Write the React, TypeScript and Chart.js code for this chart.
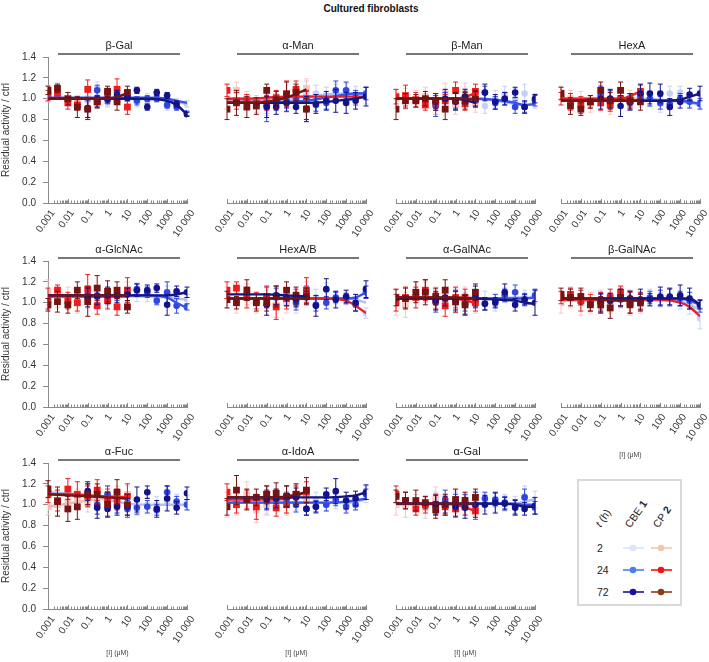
import React, { useEffect, useRef } from 'react';
import { Chart, registerables } from 'chart.js';
Chart.register(...registerables);

const FONT = '"Liberation Sans", Arial, sans-serif';
Chart.defaults.font.family = FONT;

const PANELS = ['β-Gal', 'α-Man', 'β-Man', 'HexA', 'α-GlcNAc', 'HexA/B', 'α-GalNAc', 'β-GalNAc', 'α-Fuc', 'α-IdoA', 'α-Gal'];
const UNIT_PANELS = [7, 8, 9, 10];
const CP_X = [0.001, 0.003, 0.01, 0.03, 0.1, 0.3, 1, 3, 10];
const CBE_X = [0.1, 0.3, 1, 3, 10, 30, 100, 300, 1000, 3000, 10000];
const FIT_X = [0.001, 0.01, 0.1, 1, 10, 100, 1000, 3000, 10000];
const Y_TICKS = [0, 0.2, 0.4, 0.6, 0.8, 1.0, 1.2, 1.4];

// ---- point values (residual activity / ctrl) ----
const CBE2_Y = [
  [0.98, 1.10, 0.98, 1.00, 1.00, 0.97, 1.00, 1.02, 0.93, 0.96, 0.95],
  [0.95, 0.97, 1.00, 1.02, 1.05, 1.05, 1.03, 1.05, 1.05, 1.04, 1.03],
  [0.95, 1.00, 0.98, 1.02, 1.00, 0.93, 1.00, 1.04, 1.00, 1.05, 0.98],
  [1.02, 1.00, 1.00, 0.98, 1.02, 1.00, 0.95, 1.05, 1.06, 0.98, 0.96],
  [1.05, 1.06, 1.05, 1.05, 1.08, 1.10, 1.08, 1.05, 1.10, 1.05, 1.03],
  [1.05, 1.05, 1.05, 1.03, 1.08, 1.05, 1.12, 1.05, 1.04, 1.02, 0.90],
  [1.03, 1.05, 1.05, 1.02, 1.05, 1.02, 1.00, 1.07, 1.02, 1.05, 1.05],
  [1.02, 1.00, 1.05, 1.05, 1.03, 1.05, 1.03, 1.05, 1.02, 0.98, 0.85],
  [1.08, 1.05, 1.10, 1.00, 1.00, 0.98, 1.00, 1.00, 1.03, 1.03, 1.02],
  [1.00, 1.02, 1.00, 1.02, 1.05, 1.05, 1.00, 1.03, 1.00, 1.02, 1.10],
  [1.02, 1.00, 1.02, 1.00, 1.05, 1.02, 1.00, 1.02, 1.00, 1.08, 1.05],
];
const CBE24_Y = [
  [0.90, 1.08, 0.99, 1.00, 1.01, 0.98, 1.00, 1.00, 0.94, 0.92, 0.86],
  [0.93, 0.95, 0.98, 1.00, 1.00, 0.94, 0.96, 1.08, 1.08, 1.01, 1.05],
  [0.93, 0.98, 0.98, 1.00, 0.98, 1.06, 0.96, 1.00, 0.92, 0.92, 0.98],
  [1.03, 1.00, 1.00, 0.96, 1.02, 1.00, 0.96, 0.95, 1.00, 0.97, 0.95],
  [1.08, 1.07, 1.06, 1.08, 1.08, 1.13, 1.10, 1.02, 1.10, 0.97, 0.96],
  [1.05, 1.05, 1.05, 1.00, 1.10, 0.98, 1.00, 1.05, 1.04, 0.98, 1.10],
  [1.00, 1.03, 1.05, 1.00, 1.02, 0.99, 1.02, 1.07, 1.10, 1.03, 1.07],
  [1.00, 1.02, 1.03, 1.04, 1.03, 1.05, 1.05, 1.05, 1.04, 1.02, 0.97],
  [1.10, 1.00, 1.10, 1.00, 0.96, 0.97, 0.98, 0.95, 1.12, 1.03, 1.00],
  [1.03, 1.05, 1.05, 1.00, 0.96, 0.98, 1.00, 1.05, 0.98, 1.00, 1.10],
  [1.00, 1.05, 1.02, 1.03, 1.00, 1.06, 1.05, 1.02, 0.98, 1.07, 0.97],
];
const CBE72_Y = [
  [0.91, 0.97, 1.00, 1.04, 1.02, 1.08, 0.92, 1.06, 1.03, 0.95, 0.85],
  [0.92, 0.92, 0.96, 0.92, 0.90, 0.95, 0.98, 0.98, 0.96, 0.98, 1.02],
  [0.97, 1.00, 0.97, 1.02, 1.00, 1.06, 0.97, 1.00, 1.06, 0.92, 1.00],
  [1.00, 1.00, 0.93, 0.97, 1.05, 1.05, 1.05, 0.92, 0.97, 1.04, 1.05],
  [1.05, 1.06, 1.07, 1.07, 1.08, 1.12, 1.12, 1.14, 0.98, 1.11, 1.10],
  [0.98, 1.07, 1.05, 1.03, 1.05, 0.97, 1.13, 1.03, 1.06, 1.00, 1.13],
  [1.02, 1.05, 1.02, 0.98, 1.06, 0.99, 1.00, 1.10, 0.98, 1.03, 1.00],
  [1.00, 1.02, 1.05, 1.04, 1.03, 1.03, 1.06, 1.06, 1.07, 1.04, 0.98],
  [1.13, 0.97, 0.96, 0.98, 0.98, 1.05, 1.12, 0.96, 1.06, 0.97, 1.11],
  [1.05, 1.06, 1.08, 1.07, 0.96, 0.98, 1.10, 1.13, 1.04, 1.06, 1.12],
  [1.00, 1.00, 0.98, 0.97, 1.00, 1.00, 1.02, 1.01, 0.97, 0.96, 0.99],
];
const CP2_Y = [
  [1.05, 1.08, 1.00, 0.97, 1.00, 1.00, 0.98, 1.00, 1.00],
  [1.00, 1.08, 1.00, 0.95, 0.92, 0.98, 0.97, 1.02, 1.10],
  [1.00, 1.00, 1.00, 1.02, 0.95, 1.05, 0.95, 1.05, 0.96],
  [1.06, 1.00, 0.98, 0.95, 1.05, 0.94, 1.00, 1.00, 1.00],
  [1.10, 1.05, 1.05, 1.00, 1.05, 1.05, 1.05, 1.05, 1.10],
  [1.05, 1.00, 1.08, 1.00, 1.00, 0.98, 1.00, 1.00, 1.10],
  [1.00, 0.98, 1.10, 1.10, 1.05, 1.05, 1.00, 1.05, 1.00],
  [1.00, 1.05, 1.00, 1.00, 1.00, 1.00, 1.05, 1.00, 1.00],
  [0.98, 1.00, 1.03, 1.05, 1.02, 1.00, 1.10, 1.10, 1.10],
  [1.00, 1.00, 1.10, 0.95, 1.00, 1.05, 1.00, 1.10, 1.05],
  [1.00, 1.00, 1.00, 0.97, 1.05, 1.00, 1.04, 1.00, 1.00],
];
const CP24_Y = [
  [1.03, 1.05, 0.96, 0.94, 1.09, 0.97, 1.05, 1.09, 0.92],
  [1.08, 0.98, 0.98, 0.96, 0.96, 1.01, 1.05, 1.09, 1.00],
  [1.02, 1.03, 0.99, 0.94, 0.96, 0.98, 1.08, 0.95, 1.07],
  [1.00, 0.97, 0.94, 0.97, 0.96, 0.94, 1.00, 0.99, 1.07],
  [1.04, 1.12, 1.02, 1.00, 1.13, 0.97, 1.02, 0.96, 1.12],
  [1.12, 1.14, 1.05, 1.02, 1.06, 0.96, 1.04, 1.05, 1.12],
  [1.00, 1.05, 1.05, 1.12, 1.02, 0.97, 1.05, 1.05, 1.00],
  [1.05, 1.08, 1.02, 1.00, 1.02, 1.05, 1.10, 1.00, 1.02],
  [1.10, 1.04, 1.15, 1.10, 1.08, 1.14, 1.05, 1.05, 1.08],
  [1.12, 1.00, 1.05, 0.98, 1.10, 0.97, 1.00, 1.10, 1.12],
  [1.10, 1.04, 0.96, 1.00, 1.00, 0.98, 0.96, 0.98, 0.94],
];
const CP72_Y = [
  [1.08, 1.10, 1.00, 0.92, 0.90, 0.97, 1.07, 0.97, 1.06],
  [0.90, 0.96, 0.92, 0.93, 1.08, 0.99, 1.04, 1.06, 0.90],
  [0.90, 0.98, 0.98, 1.00, 0.98, 0.90, 0.98, 0.98, 1.00],
  [1.05, 0.93, 0.90, 0.97, 1.08, 0.98, 1.08, 0.98, 0.97],
  [0.98, 1.01, 0.98, 1.12, 1.01, 1.14, 1.11, 1.12, 0.96],
  [1.03, 1.00, 1.12, 1.00, 1.00, 1.06, 1.12, 1.07, 1.06],
  [1.05, 1.04, 1.10, 1.10, 1.06, 1.12, 1.01, 0.98, 1.10],
  [1.08, 1.05, 1.06, 0.98, 0.98, 0.95, 1.05, 0.98, 1.00],
  [1.15, 1.03, 0.96, 0.98, 1.10, 1.10, 1.00, 1.12, 1.00],
  [0.98, 1.14, 1.05, 1.07, 1.10, 1.11, 1.08, 1.10, 1.14],
  [1.08, 1.04, 1.04, 1.02, 0.95, 1.00, 1.05, 1.04, 1.07],
];

// ---- error bars (in hundredths) ----
const CBE2_E = [
  [8, 6, 5, 5, 5, 5, 5, 4, 4, 4, 3],
  [9, 8, 7, 6, 12, 8, 8, 9, 10, 8, 8],
  [10, 9, 8, 8, 7, 7, 8, 8, 10, 9, 7],
  [8, 7, 7, 6, 8, 7, 8, 7, 6, 6, 5],
  [10, 9, 8, 8, 8, 9, 7, 6, 6, 6, 5],
  [9, 8, 7, 8, 7, 8, 7, 6, 6, 6, 5],
  [10, 8, 9, 8, 8, 9, 8, 7, 7, 7, 6],
  [10, 8, 8, 7, 7, 8, 7, 8, 8, 9, 10],
  [10, 9, 8, 7, 7, 8, 7, 8, 8, 7, 7],
  [9, 8, 8, 7, 7, 7, 6, 7, 6, 7, 8],
  [10, 9, 10, 9, 8, 8, 7, 8, 8, 10, 8],
];
const CBE24_E = [
  [8, 5, 4, 4, 3, 4, 3, 3, 3, 3, 2],
  [15, 6, 7, 6, 7, 6, 6, 9, 8, 7, 6],
  [10, 8, 7, 7, 6, 6, 6, 6, 6, 5, 5],
  [9, 8, 7, 6, 6, 7, 6, 5, 5, 6, 5],
  [8, 7, 7, 6, 6, 5, 5, 4, 10, 7, 3],
  [10, 9, 8, 7, 6, 6, 6, 5, 5, 6, 6],
  [9, 8, 7, 8, 7, 6, 6, 6, 7, 6, 6],
  [8, 7, 7, 7, 6, 6, 7, 8, 7, 8, 6],
  [10, 9, 8, 8, 8, 6, 6, 5, 6, 5, 5],
  [8, 8, 7, 7, 6, 6, 6, 6, 6, 5, 5],
  [10, 9, 8, 7, 7, 6, 6, 6, 7, 8, 6],
];
const CBE72_E = [
  [9, 5, 4, 4, 4, 3, 3, 3, 3, 3, 2],
  [10, 7, 8, 6, 12, 9, 9, 11, 10, 8, 9],
  [8, 9, 8, 7, 7, 8, 7, 6, 5, 6, 4],
  [10, 9, 10, 8, 9, 10, 9, 8, 6, 6, 7],
  [9, 8, 8, 7, 6, 6, 5, 4, 10, 5, 5],
  [10, 9, 8, 7, 6, 10, 10, 8, 6, 8, 8],
  [9, 8, 9, 9, 10, 6, 5, 8, 6, 5, 12],
  [9, 7, 8, 7, 10, 6, 9, 8, 10, 10, 4],
  [9, 10, 7, 8, 8, 12, 6, 8, 12, 6, 6],
  [9, 9, 10, 9, 6, 5, 6, 12, 8, 7, 7],
  [9, 8, 9, 10, 12, 9, 10, 6, 7, 6, 8],
];
const CP2_E = [
  [8, 7, 6, 6, 6, 6, 6, 6, 7],
  [10, 8, 7, 8, 8, 9, 10, 10, 9],
  [9, 10, 8, 9, 10, 10, 10, 10, 9],
  [6, 8, 9, 8, 8, 9, 8, 8, 8],
  [12, 10, 10, 10, 10, 10, 10, 9, 10],
  [10, 10, 10, 10, 12, 12, 10, 10, 10],
  [12, 12, 10, 10, 10, 10, 10, 10, 10],
  [10, 10, 12, 10, 10, 10, 10, 12, 10],
  [8, 10, 10, 10, 9, 9, 8, 8, 8],
  [12, 10, 12, 12, 10, 10, 10, 10, 10],
  [10, 12, 10, 10, 12, 10, 10, 10, 10],
];
const CP24_E = [
  [5, 5, 6, 5, 9, 5, 5, 10, 7],
  [6, 8, 6, 5, 7, 7, 12, 8, 8],
  [7, 10, 7, 5, 7, 6, 8, 6, 7],
  [6, 8, 8, 6, 7, 6, 7, 6, 6],
  [10, 5, 8, 8, 14, 8, 8, 8, 12],
  [8, 6, 10, 8, 10, 12, 10, 8, 12],
  [8, 10, 10, 10, 8, 10, 10, 8, 8],
  [6, 6, 10, 8, 8, 8, 6, 10, 8],
  [8, 10, 10, 12, 10, 10, 10, 10, 12],
  [8, 8, 9, 12, 8, 8, 8, 8, 10],
  [8, 8, 6, 8, 10, 8, 8, 8, 8],
];
const CP72_E = [
  [4, 4, 6, 10, 10, 6, 5, 8, 6],
  [10, 12, 10, 8, 6, 8, 12, 8, 10],
  [10, 7, 6, 7, 7, 10, 8, 8, 8],
  [6, 8, 6, 6, 8, 8, 8, 7, 8],
  [6, 10, 8, 8, 14, 12, 10, 8, 6],
  [8, 6, 10, 8, 8, 10, 8, 8, 8],
  [8, 10, 10, 12, 8, 10, 10, 10, 8],
  [6, 8, 8, 6, 8, 10, 8, 8, 8],
  [8, 14, 12, 12, 10, 10, 12, 12, 10],
  [8, 14, 10, 8, 8, 10, 10, 10, 12],
  [6, 8, 10, 6, 8, 10, 10, 8, 8],
];

// ---- fitted curves, read at FIT_X (shorter rows stop earlier) ----
const CBE2_FIT = [
  [1.00, 1.00, 1.00, 1.00, 1.00, 1.00, 0.99, 0.97, 0.95],
  [1.00, 1.00, 1.00, 1.00, 1.02, 1.04, 1.05, 1.05, 1.05],
  [1.00, 1.00, 1.00, 1.00, 1.00, 0.98, 0.95, 0.94, 0.95],
  [1.00, 1.00, 1.00, 1.00, 1.00, 0.99, 0.97, 0.96, 0.94],
  [1.06, 1.06, 1.06, 1.06, 1.06, 1.06, 1.05, 1.04, 1.03],
  [1.04, 1.04, 1.04, 1.04, 1.04, 1.04, 1.04, 1.03, 1.00],
  [1.04, 1.04, 1.04, 1.04, 1.04, 1.04, 1.05, 1.05, 1.05],
  [1.02, 1.02, 1.02, 1.02, 1.02, 1.02, 1.01, 0.98, 0.93],
  [1.12, 1.11, 1.09, 1.05, 1.01, 1.00, 1.00, 1.00, 1.00],
  [1.02, 1.02, 1.02, 1.02, 1.02, 1.02, 1.02, 1.03, 1.05],
  [1.01, 1.01, 1.01, 1.01, 1.01, 1.01, 1.01, 1.03, 1.05],
];
const CBE24_FIT = [
  [1.01, 1.01, 1.01, 1.01, 1.01, 1.01, 1.00, 0.98, 0.96],
  [0.97, 0.97, 0.97, 0.97, 0.98, 1.01, 1.04, 1.05, 1.05],
  [1.00, 1.00, 1.00, 1.00, 1.00, 0.99, 0.96, 0.94, 0.95],
  [0.98, 0.98, 0.98, 0.98, 0.98, 0.98, 0.98, 0.97, 0.95],
  [1.07, 1.07, 1.07, 1.07, 1.07, 1.07, 1.05, 1.00, 0.95],
  [1.04, 1.04, 1.04, 1.04, 1.04, 1.04, 1.04, 1.05, 1.10],
  [1.04, 1.04, 1.04, 1.04, 1.04, 1.04, 1.04, 1.04, 1.05],
  [1.04, 1.04, 1.04, 1.04, 1.04, 1.04, 1.04, 1.02, 0.98],
  [],
  [1.02, 1.02, 1.02, 1.02, 1.02, 1.02, 1.03, 1.04, 1.06],
  [1.01, 1.01, 1.01, 1.01, 1.01, 1.01, 1.01, 1.00, 1.00],
];
const CBE72_FIT = [
  [1.00, 1.00, 1.00, 1.00, 1.00, 1.00, 0.98, 0.94, 0.85],
  [0.96, 0.96, 0.96, 0.96, 0.96, 0.97, 0.99, 1.00, 1.02],
  [1.00, 1.00, 1.00, 1.00, 0.96],
  [0.98, 0.98, 0.98, 0.98, 0.98, 0.98, 0.99, 1.02, 1.05],
  [1.07, 1.07, 1.07, 1.07, 1.07, 1.07, 1.07, 1.08, 1.10],
  [1.08, 1.08, 1.08, 1.07, 1.06],
  [1.04, 1.04, 1.04, 1.04, 1.04, 1.03, 1.02, 1.00, 0.99],
  [1.04, 1.04, 1.04, 1.04, 1.04, 1.04, 1.04, 1.04, 0.98],
  [],
  [1.07, 1.07, 1.07, 1.07, 1.07, 1.07, 1.08, 1.09, 1.12],
  [1.01, 1.01, 1.01, 1.01, 1.01, 1.01, 1.00, 0.98, 0.98],
];
const CP2_FIT = [
  [1.00, 1.00, 1.00, 1.00, 1.00],
  [0.98, 0.98, 0.99, 1.00, 1.02],
  [1.00, 1.00, 1.00, 1.00, 1.00],
  [1.00, 1.00, 1.00, 1.00, 1.00],
  [1.06, 1.06, 1.06, 1.06, 1.06],
  [1.04, 1.04, 1.04, 1.04, 1.04],
  [1.05, 1.05, 1.05, 1.05, 1.05],
  [1.02, 1.02, 1.02, 1.02, 1.02],
  [0.98, 1.01, 1.04, 1.07, 1.08],
  [1.02, 1.02, 1.02, 1.02, 1.02],
  [1.00, 1.00, 1.00, 1.00, 1.00],
];
const CP24_FIT = [
  [1.00, 1.00, 1.00, 1.00, 1.00],
  [1.00, 1.00, 1.01, 1.02, 1.02, 1.02, 1.02, 1.02, 1.02],
  [1.00, 1.00, 1.00, 1.00, 1.05],
  [1.00, 1.00, 1.00, 1.00, 1.07],
  [1.06, 1.06, 1.06, 1.06, 1.06],
  [1.04, 1.04, 1.04, 1.04, 1.04, 1.04, 1.02, 0.97, 0.90],
  [1.05, 1.05, 1.05, 1.04, 1.00],
  [1.03, 1.03, 1.03, 1.03, 1.03, 1.03, 1.00, 0.96, 0.87],
  [1.10, 1.10, 1.09, 1.08, 1.07],
  [1.05, 1.05, 1.05, 1.06, 1.12],
  [1.01, 1.01, 1.01, 1.00, 0.94],
];
const CP72_FIT = [
  [1.00, 1.00, 1.00, 1.00, 1.05],
  [0.96, 0.96, 0.97, 1.01, 1.09],
  [1.00, 1.00, 1.00, 1.00, 0.99],
  [0.98, 0.98, 0.98, 0.98, 0.98],
  [1.07, 1.07, 1.07, 1.07, 1.07],
  [1.04, 1.04, 1.04, 1.04, 1.04],
  [1.05, 1.05, 1.05, 1.05, 1.04],
  [1.04, 1.04, 1.03, 1.02, 1.02],
  [1.10, 1.09, 1.08, 1.07, 1.06],
  [1.07, 1.07, 1.07, 1.08, 1.12],
  [1.01, 1.01, 1.01, 1.01, 1.01],
];

// ---- styles ----
const SERIES = [
  { pts: CBE2_Y, err: CBE2_E, fit: CBE2_FIT, xs: CBE_X, color: 'rgba(190,202,242,0.85)', fitColor: '#b4bfef', style: 'circle', r: 3.3, ptOrder: 12, fitOrder: 10 },
  { pts: CP2_Y, err: CP2_E, fit: CP2_FIT, xs: CP_X, color: 'rgba(246,190,186,0.85)', fitColor: '#f4b6b4', style: 'rect', r: 4.8, ptOrder: 11, fitOrder: 9 },
  { pts: CBE24_Y, err: CBE24_E, fit: CBE24_FIT, xs: CBE_X, color: '#2f47e2', fitColor: '#3852ea', style: 'circle', r: 3.3, ptOrder: 8, fitOrder: 6 },
  { pts: CP24_Y, err: CP24_E, fit: CP24_FIT, xs: CP_X, color: '#f01c1c', fitColor: '#e8202c', style: 'rect', r: 4.8, ptOrder: 7, fitOrder: 5 },
  { pts: CBE72_Y, err: CBE72_E, fit: CBE72_FIT, xs: CBE_X, color: '#12128c', fitColor: '#15157e', style: 'circle', r: 3.3, ptOrder: 4, fitOrder: 2 },
  { pts: CP72_Y, err: CP72_E, fit: CP72_FIT, xs: CP_X, color: '#761313', fitColor: '#6e1515', style: 'rect', r: 4.8, ptOrder: 3, fitOrder: 1 },
];

const AX = [48, 227, 396, 561];
const TY = [57, 261, 463];
const PLOT_W = 139;
const PLOT_H = 146;
const PAD_L = 48;
const PAD_T = 30;
const PAD_R = 12;
const PAD_B = 56;
const ROT = (-55 * Math.PI) / 180;

const isDecade = (v: number) => Math.abs(Math.log10(v) - Math.round(Math.log10(v))) < 1e-6;
const fmtTick = (v: number) => {
  if (!isDecade(v)) return '';
  const e = Math.round(Math.log10(v));
  if (e < 0) return v.toFixed(-e);
  if (e === 4) return '10 000';
  return String(Math.round(v));
};

const errorBarPlugin = {
  id: 'errbars',
  beforeDatasetDraw(chart: any, args: any) {
    const ds = chart.data.datasets[args.index];
    if (!ds.errors) return;
    const { ctx, scales } = chart;
    const x = scales.x, y = scales.y;
    ctx.save();
    ctx.strokeStyle = ds.borderColor;
    ctx.lineWidth = 1;
    ds.data.forEach((p: any, i: number) => {
      const e = ds.errors[i] / 100;
      const px = x.getPixelForValue(p.x);
      const yt = y.getPixelForValue(p.y + e);
      const yb = y.getPixelForValue(p.y - e);
      ctx.beginPath();
      ctx.moveTo(px, yt); ctx.lineTo(px, yb);
      ctx.moveTo(px - 2.5, yt); ctx.lineTo(px + 2.5, yt);
      ctx.moveTo(px - 2.5, yb); ctx.lineTo(px + 2.5, yb);
      ctx.stroke();
    });
    ctx.restore();
  },
};

const decorPlugin = {
  id: 'decor',
  afterDraw(chart: any, _args: any, opts: any) {
    const { ctx, chartArea, scales } = chart;
    const { left, right, top, bottom } = chartArea;
    const x = scales.x;
    ctx.save();
    // title bar
    const l0 = left + 10, l1 = right - 7;
    ctx.strokeStyle = '#4a4a4a';
    ctx.lineWidth = 1.3;
    ctx.beginPath(); ctx.moveTo(l0, top - 3); ctx.lineTo(l1, top - 3); ctx.stroke();
    ctx.fillStyle = '#222';
    ctx.font = `11px ${FONT}`;
    ctx.textAlign = 'center';
    ctx.textBaseline = 'alphabetic';
    ctx.fillText(opts.name, (l0 + l1) / 2, top - 8);
    // inner tick marks and rotated decade labels on x axis
    ctx.strokeStyle = '#888';
    ctx.lineWidth = 1;
    ctx.font = `10px ${FONT}`;
    ctx.fillStyle = '#333';
    ctx.textBaseline = 'middle';
    ctx.textAlign = 'center';
    x.ticks.forEach((t: any) => {
      const px = Math.round(x.getPixelForValue(t.value)) + 0.5;
      const major = isDecade(t.value);
      ctx.beginPath(); ctx.moveTo(px, bottom); ctx.lineTo(px, bottom - (major ? 4 : 2.5)); ctx.stroke();
      if (major) {
        const label = fmtTick(t.value);
        const w = ctx.measureText(label).width;
        const cx = px - 0.15 * w + 1;
        const cy = bottom + 8 + 0.41 * w;
        ctx.save();
        ctx.translate(cx, cy);
        ctx.rotate(ROT);
        ctx.fillText(label, 0, 0);
        ctx.restore();
      }
    });
    if (opts.unit) {
      ctx.fillStyle = '#444';
      ctx.font = `7px ${FONT}`;
      ctx.textBaseline = 'middle';
      ctx.textAlign = 'center';
      ctx.fillText('[I] (μM)', (left + right) / 2, bottom + opts.unitOffset);
    }
    ctx.restore();
  },
};

function Panel({ idx }: { idx: number }) {
  const ref = useRef<HTMLCanvasElement | null>(null);
  const row = Math.floor(idx / 4);
  const col = idx % 4;
  const W = PAD_L + PLOT_W + PAD_R;
  const H = PAD_T + PLOT_H + PAD_B;
  useEffect(() => {
    const datasets: any[] = [];
    SERIES.forEach((s) => {
      const fitRow = s.fit[idx];
      if (fitRow.length) {
        datasets.push({
          type: 'line',
          data: fitRow.map((v: number, i: number) => ({ x: FIT_X[i], y: v })),
          borderColor: s.fitColor,
          borderWidth: 2.4,
          pointRadius: 0,
          cubicInterpolationMode: 'monotone',
          fill: false,
          order: s.fitOrder,
        });
      }
      datasets.push({
        type: 'line',
        data: s.pts[idx].map((v: number, i: number) => ({ x: s.xs[i], y: v })),
        errors: s.err[idx],
        showLine: false,
        borderColor: s.color,
        backgroundColor: s.color,
        pointStyle: s.style,
        pointRadius: s.r,
        pointBorderWidth: 0,
        order: s.ptOrder,
      });
    });
    const first = col === 0;
    const chart = new Chart(ref.current as HTMLCanvasElement, {
      type: 'line',
      data: { datasets },
      plugins: [errorBarPlugin, decorPlugin],
      options: {
        responsive: false,
        animation: false,
        events: [],
        layout: { padding: { top: PAD_T, right: PAD_R, left: 0, bottom: 0 } },
        plugins: {
          legend: { display: false },
          tooltip: { enabled: false },
          decor: { name: PANELS[idx], unit: UNIT_PANELS.includes(idx), unitOffset: row === 1 ? 48 : 44 },
        } as any,
        scales: {
          x: {
            type: 'logarithmic',
            min: 0.001,
            max: 10000,
            afterFit: (s: any) => { s.height = PAD_B; },
            border: { display: true, color: '#8a8a8a' },
            grid: { display: false },
            ticks: { display: false, autoSkip: false },
          },
          y: {
            min: 0,
            max: 1.4,
            afterFit: (s: any) => { s.width = PAD_L; },
            afterBuildTicks: (s: any) => { s.ticks = Y_TICKS.map((v) => ({ value: v })); },
            border: { display: first, color: '#8a8a8a' },
            grid: { display: first, drawOnChartArea: false, tickLength: 5, color: '#8a8a8a' },
            ticks: {
              display: first,
              padding: 7,
              color: '#333',
              font: { size: 10 },
              callback: (v: any) => Number(v).toFixed(1),
            },
            title: {
              display: first,
              text: 'Residual activity / ctrl',
              color: '#333',
              font: { size: 10 },
              padding: 0,
            },
          },
        },
      } as any,
    });
    return () => chart.destroy();
  }, [idx]);
  return (
    <canvas
      ref={ref}
      width={W}
      height={H}
      style={{ position: 'absolute', left: AX[col] - PAD_L, top: TY[row] - PAD_T, width: W, height: H }}
    />
  );
}

const LEGEND_TIMES = ['2', '24', '72'];
const LEGEND_CBE = ['#dbe5f6', '#4b7ff0', '#1c0f9a'];
const LEGEND_CP = ['#f4c6ab', '#f01414', '#8a3d12'];
const LEGEND_ROW_Y = [548, 570, 592];

function Legend() {
  return (
    <svg width={709} height={662} style={{ position: 'absolute', left: 0, top: 0, pointerEvents: 'none' }}>
      <rect x={578} y={480} width={103} height={125} fill="#fff" stroke="#d9d9d9" strokeWidth={2} />
      <g fontFamily={FONT} fontSize={10.5} fill="#222">
        <text transform="translate(606 520) rotate(-55)" textAnchor="middle">
          <tspan fontStyle="italic">t</tspan> (h)
        </text>
        <text transform="translate(639 516) rotate(-55)" textAnchor="middle">
          CBE <tspan fontWeight="bold">1</tspan>
        </text>
        <text transform="translate(665 519) rotate(-55)" textAnchor="middle">
          CP <tspan fontWeight="bold">2</tspan>
        </text>
        {LEGEND_TIMES.map((t, i) => (
          <text key={t} x={597} y={LEGEND_ROW_Y[i] + 4}>{t}</text>
        ))}
      </g>
      {LEGEND_TIMES.map((t, i) => (
        <g key={'m' + t}>
          <line x1={623} x2={644} y1={LEGEND_ROW_Y[i]} y2={LEGEND_ROW_Y[i]} stroke={LEGEND_CBE[i]} strokeWidth={1.6} />
          <circle cx={633} cy={LEGEND_ROW_Y[i]} r={3.3} fill={LEGEND_CBE[i]} />
          <line x1={651} x2={672} y1={LEGEND_ROW_Y[i]} y2={LEGEND_ROW_Y[i]} stroke={LEGEND_CP[i]} strokeWidth={1.6} />
          <circle cx={661} cy={LEGEND_ROW_Y[i]} r={3.3} fill={LEGEND_CP[i]} />
        </g>
      ))}
    </svg>
  );
}

export default function App() {
  return (
    <div style={{ position: 'absolute', left: 0, top: 0, width: 709, height: 662, background: '#fff', overflow: 'hidden' }}>
      <div style={{ position: 'absolute', left: 0, width: 742, top: 3, textAlign: 'center', fontFamily: FONT, fontWeight: 'bold', fontSize: 10, color: '#111' }}>
        Cultured fibroblasts
      </div>
      {PANELS.map((_, i) => (
        <Panel key={i} idx={i} />
      ))}
      <Legend />
    </div>
  );
}
